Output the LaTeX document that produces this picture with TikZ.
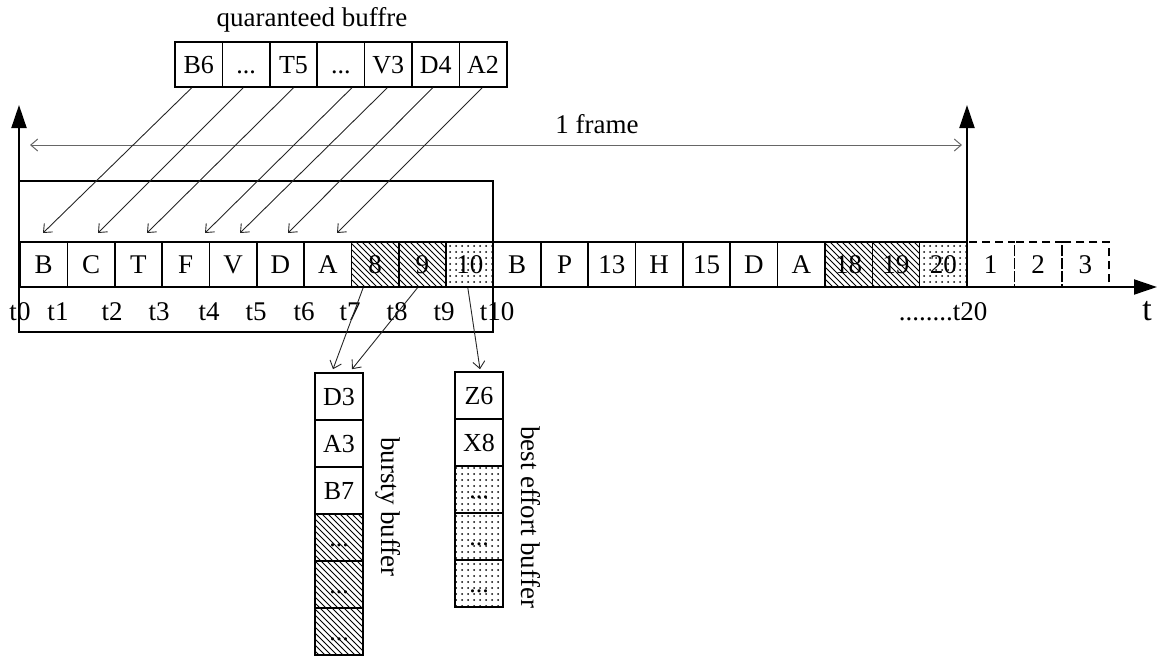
\documentclass[tikz,border=0pt]{standalone}
\usepackage{fontspec}
\setmainfont{Liberation Serif}
\usetikzlibrary{arrows.meta,patterns,calc}
\newcommand{\mydots}{...}
\begin{document}
\begin{tikzpicture}[x=0.5pt,y=-0.5pt,
  txt/.style={font=\fontsize{13.5}{15}\selectfont,inner sep=0pt},
  cell/.style={draw,line width=0.8pt,minimum width=23.675pt,minimum height=22.5pt,inner sep=0pt,text height=9pt,text depth=0pt,font=\fontsize{13.5}{15}\selectfont},
  bcell/.style={draw,line width=0.8pt,minimum width=24pt,minimum height=23.5pt,inner sep=0pt,text height=9pt,text depth=0pt,font=\fontsize{13}{15}\selectfont},
  plaincell/.style={},
  hatchcell/.style={pattern=north west lines},
  dotcell/.style={pattern=dots},
  dashcell/.style={draw,dash pattern=on 4pt off 2.5pt,line width=0.8pt,minimum width=23.675pt,minimum height=22.5pt,inner sep=0pt,text height=9pt,text depth=0pt,font=\fontsize{13.5}{15}\selectfont},
  axisline/.style={line width=1pt,-{Triangle[width=7.5pt,length=11.5pt]}},
  thinarrow/.style={line width=0.45pt,black!85,-{Straight Barb[length=3.5pt,width=6pt]}},
  framearrow/.style={line width=0.5pt,black!60,{Straight Barb[length=3.5pt,width=6pt]}-{Straight Barb[length=3.5pt,width=6pt]}}
]
\useasboundingbox (0,0) rectangle (1163,660);

% title
\node[txt] (title) at (312,20) {quaranteed buffre};

% guaranteed buffer
\foreach \lab [count=\i from 1] in {B6,\mydots,T5,\mydots,V3,D4,A2}
  \node[cell,minimum width=23.7pt,font=\fontsize{13}{15}\selectfont] (q\i) at ({175+47.4*(\i-0.5)},64.5) {\lab};

% axes
\coordinate (origin) at (19,287);
\coordinate (yaxtop) at (19,105);
\coordinate (xaxend) at (1157,287);
\coordinate (f20) at (967,287);
\coordinate (f20top) at (967,105);

% big rectangle
\draw[line width=0.8pt] (19,181) rectangle (493,332);

% frame arrow
\coordinate (fl) at (30,145);
\coordinate (fr) at (962,145);
\draw[framearrow] (fl) -- (fr);
\node[txt] (frame) at (597,124) {1 frame};

% timeline cells
\foreach \lab/\sty [count=\i from 0] in {B/plaincell,C/plaincell,T/plaincell,F/plaincell,V/plaincell,D/plaincell,A/plaincell,8/hatchcell,9/hatchcell,10/dotcell,B/plaincell,P/plaincell,13/plaincell,H/plaincell,15/plaincell,D/plaincell,A/plaincell,18/hatchcell,19/hatchcell,20/dotcell}
  \node[cell,\sty] (r\i) at ({20+47.35*(\i+0.5)},264.5) {\lab};
\foreach \lab [count=\i from 20] in {1,2,3}
  \node[dashcell] (r\i) at ({20+47.35*(\i+0.5)},264.5) {\lab};

\draw[axisline] (origin) -- (yaxtop);
\draw[axisline] (f20) -- (f20top);
\draw[axisline] (origin) -- (xaxend);
\node[txt,font=\fontsize{17}{19}\selectfont] (tlab) at (1147,311) {t};

% time labels
\foreach \x [count=\i from 0] in {20,58,112,159,209,256,304,350,397,444,497}
  \node[txt] (t\i) at (\x,312) {t\i};
\node[txt] (t20) at (943,312) {........t20};
\draw[line width=0.8pt] (493,242) -- (493,332);

% arrows from guaranteed buffer
\foreach \x [count=\i from 1] in {43,98,147,205,240,288,337}
  \coordinate (g\i) at (\x,233);
\foreach \i/\dx in {1/-7,2/-3,3/0,4/11,5/-1,6/-3,7/-1}
  \draw[thinarrow] ($(q\i.south)+(\dx,0)$) -- (g\i);

% bursty buffer
\foreach \lab/\sty [count=\i from 1] in {D3/plaincell,A3/plaincell,B7/plaincell,\mydots/hatchcell,\mydots/hatchcell,\mydots/hatchcell}
  \node[bcell,\sty] (b\i) at (339,{373+47*(\i-0.5)}) {\lab};
% best effort buffer
\foreach \lab/\sty [count=\i from 1] in {Z6/plaincell,X8/plaincell,\mydots/dotcell,\mydots/dotcell,\mydots/dotcell}
  \node[bcell,\sty] (e\i) at (479,{372+47*(\i-0.5)}) {\lab};

\node[txt,rotate=-90] (blab) at (388,507) {bursty buffer};
\node[txt,rotate=-90] (elab) at (531,517) {best effort buffer};

% arrows to bursty / best effort buffers
\draw[thinarrow] ($(r7.south)+(-12,0)$) -- ($(b1.north)+(-6,-3)$);
\draw[thinarrow] ($(r8.south)+(-5,0)$) -- ($(b1.north)+(13,-3)$);
\draw[thinarrow] ($(r9.south)+(-2,0)$) -- ($(e1.north)+(1,-2)$);
\end{tikzpicture}
\end{document}
